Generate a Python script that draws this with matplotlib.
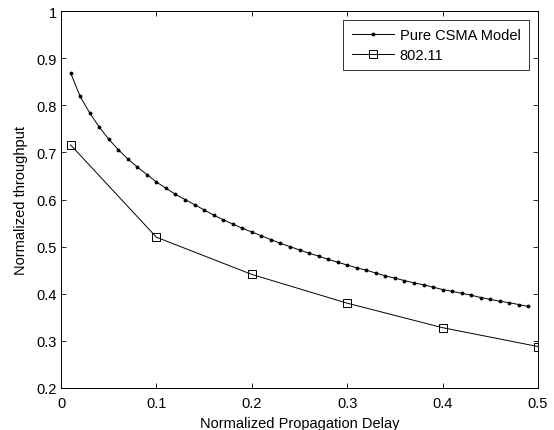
import matplotlib
matplotlib.use("Agg")
import matplotlib.pyplot as plt

plt.rcParams['font.family'] = ['Liberation Sans', 'DejaVu Sans']

csma_x = [round(0.01 * i, 2) for i in range(1, 50)]
csma_y = [0.869, 0.819, 0.784, 0.754, 0.728, 0.706, 0.686, 0.669, 0.653, 0.637,
          0.624, 0.611, 0.600, 0.589, 0.578, 0.567, 0.557, 0.548, 0.539, 0.531,
          0.523, 0.515, 0.507, 0.500, 0.493, 0.486, 0.480, 0.473, 0.467, 0.461,
          0.455, 0.450, 0.444, 0.438, 0.433, 0.428, 0.423, 0.419, 0.414, 0.409,
          0.405, 0.401, 0.397, 0.392, 0.388, 0.384, 0.381, 0.377, 0.373]
w_x = [0.01, 0.1, 0.2, 0.3, 0.4, 0.5]
w_y = [0.716, 0.520, 0.441, 0.380, 0.328, 0.288]

xticks = [0, 0.1, 0.2, 0.3, 0.4, 0.5]
xticklabels = ['0', '0.1', '0.2', '0.3', '0.4', '0.5']
yticks = [0.2, 0.3, 0.4, 0.5, 0.6, 0.7, 0.8, 0.9, 1.0]
yticklabels = ['0.2', '0.3', '0.4', '0.5', '0.6', '0.7', '0.8', '0.9', '1']

FS = 10.5
W, H = 554, 431
fig = plt.figure(figsize=(W / 100, H / 100), dpi=100)
L, R, T, B = 61, 538, 12, 389
ax = fig.add_axes([L / W, 1 - B / H, (R - L) / W, (B - T) / H])

ax.plot(csma_x, csma_y, '-', color='black', lw=0.7, marker='.', ms=3.5,
        label='Pure CSMA Model')
ax.plot(w_x, w_y, '-', color='black', lw=0.7, marker='s', ms=5.5, mfc='none',
        mew=0.7, label='802.11')

ax.set_xlim(0, 0.5)
ax.set_ylim(0.2, 1.0)
ax.set_xticks(xticks)
ax.set_xticklabels(xticklabels)
ax.set_yticks(yticks)
ax.set_yticklabels(yticklabels)
ax.tick_params(direction='in', length=3.5, width=0.6, top=True, right=True,
               labelsize=FS)
ax.tick_params(axis='x', pad=5.5)
ax.tick_params(axis='y', pad=3)
for s in ax.spines.values():
    s.set_linewidth(0.7)

ax.set_xlabel('Normalized Propagation Delay', fontsize=FS, labelpad=4.5)
ax.set_ylabel('Normalized throughput', fontsize=FS, labelpad=6)

leg = ax.legend(loc='upper right', fontsize=FS, frameon=True, fancybox=False,
                edgecolor='black', borderaxespad=0.6, handlelength=2.9,
                handletextpad=0.4, borderpad=0.6, labelspacing=0.35)
leg.get_frame().set_linewidth(0.7)

fig.savefig('out.png', dpi=100)
